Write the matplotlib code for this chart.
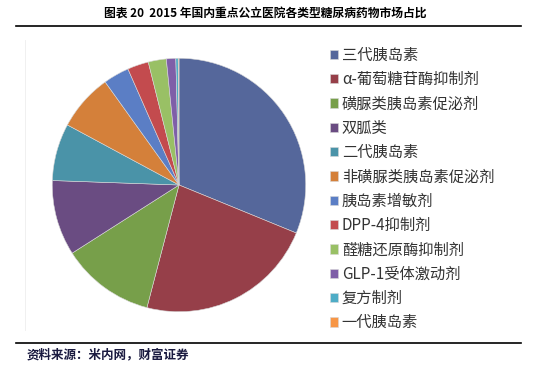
import matplotlib
matplotlib.use('Agg')
import matplotlib.pyplot as plt
from matplotlib.lines import Line2D

plt.rcParams['font.family'] = ['Noto Sans CJK SC', 'DejaVu Sans']

labels = ['三代胰岛素', 'α-葡萄糖苷酶抑制剂', '磺脲类胰岛素促泌剂', '双胍类', '二代胰岛素',
          '非磺脲类胰岛素促泌剂', '胰岛素增敏剂', 'DPP-4抑制剂', '醛糖还原酶抑制剂',
          'GLP-1受体激动剂', '复方制剂', '一代胰岛素']
shares = [31.2, 22.9, 11.9, 9.6, 7.3, 7.25, 3.3, 2.7, 2.3, 1.2, 0.3, 0.1]
colors = ['#55679B', '#963F49', '#779F4A', '#6A4C82', '#4A93A8', '#D4803A',
          '#5B7EC5', '#C34B4E', '#99C065', '#7F5FA8', '#4EACC6', '#F79646']

fig = plt.figure(figsize=(5.33, 3.70), dpi=100)

# title and rules
fig.text(0.497, 0.963, '图表 20  2015 年国内重点公立医院各类型糖尿病药物市场占比',
         ha='center', va='center', fontsize=8.5, fontweight='bold')
fig.add_artist(Line2D([16/533, 521/533], [1 - 26/370, 1 - 26/370], color='black', lw=1.2))
fig.add_artist(Line2D([16/533, 521/533], [1 - 343/370, 1 - 343/370], color='black', lw=1.2))
fig.add_artist(Line2D([25/533, 25/533], [1 - 330/370, 1 - 40/370], color='#eeeeee', lw=0.6))
fig.text(27/533, 1 - 355/370, '资料来源：米内网，财富证券', ha='left', va='center',
         fontsize=9, fontweight='bold', style='italic', color='#1a1a40')

# pie
cx, cy, r = 179, 185, 128
ax = fig.add_axes([(cx - r)/533, (370 - cy - r)/370, 2*r/533, 2*r/370])
wedges, _ = ax.pie(shares, colors=colors, startangle=90, counterclock=False,
                   wedgeprops=dict(edgecolor='#d8d8d8', linewidth=0.4))
ax.set_aspect('equal')
ax.set_xlim(-1.01, 1.01)
ax.set_ylim(-1.01, 1.01)

fig.legend(wedges, labels, loc='upper left', bbox_to_anchor=(322/533, 1 - 39/370),
           frameon=False, fontsize=11, handlelength=0.55, handleheight=0.55,
           handletextpad=0.25, labelspacing=0.48, borderpad=0, labelcolor='#333333')

plt.savefig('out.png', dpi=100)
